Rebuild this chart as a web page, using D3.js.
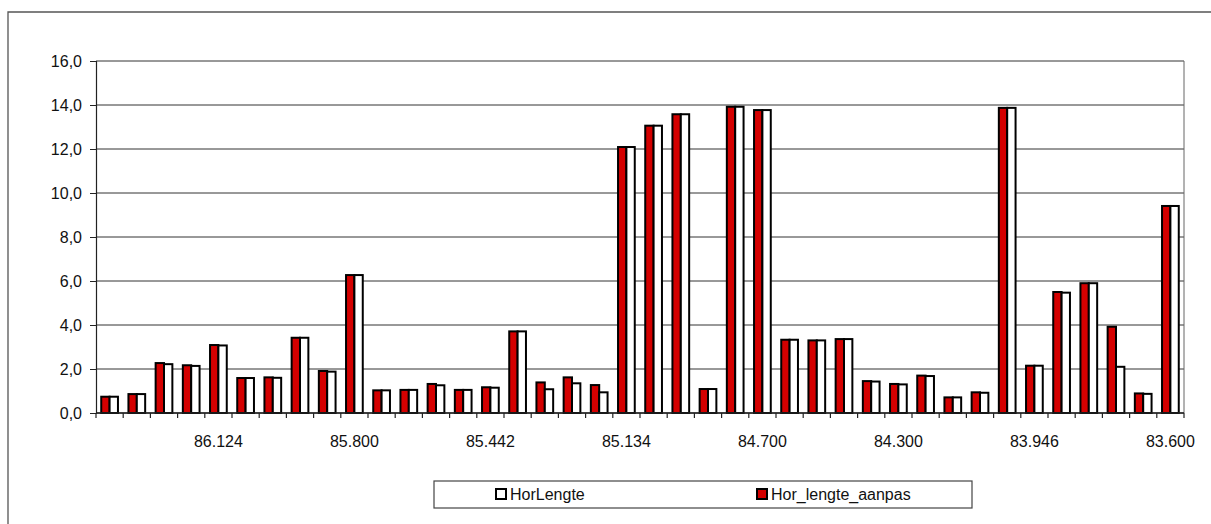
<!DOCTYPE html>
<html>
<head>
<meta charset="utf-8">
<script src="https://cdn.jsdelivr.net/npm/d3@7"></script>
<style>
  html, body { margin: 0; padding: 0; background: #fff; }
  svg { display: block; font-family: "Liberation Sans", Arial, sans-serif; }
</style>
</head>
<body>
<svg id="chart" width="1211" height="524"></svg>
<script>
// ---- data ----
const categories = d3.range(40).map(i => "c" + i);
const tickLabels = ["", "", "", "", "86.124", "", "", "", "", "85.800",
                    "", "", "", "", "85.442", "", "", "", "", "85.134",
                    "", "", "", "", "84.700", "", "", "", "", "84.300",
                    "", "", "", "", "83.946", "", "", "", "", "83.600"];
const horLengteAanpas = [0.74, 0.86, 2.27, 2.17, 3.09, 1.59, 1.62, 3.42, 1.91, 6.27,
                         1.03, 1.05, 1.32, 1.05, 1.17, 3.71, 1.39, 1.62, 1.27, 12.09,
                         13.06, 13.58, 1.09, 13.92, 13.77, 3.33, 3.30, 3.36, 1.45, 1.32,
                         1.70, 0.71, 0.94, 13.87, 2.15, 5.50, 5.90, 3.92, 0.89, 9.41];
const horLengte =       [0.74, 0.86, 2.22, 2.14, 3.07, 1.59, 1.60, 3.42, 1.88, 6.27,
                         1.03, 1.05, 1.26, 1.05, 1.15, 3.71, 1.08, 1.35, 0.94, 12.09,
                         13.06, 13.58, 1.09, 13.92, 13.77, 3.33, 3.30, 3.36, 1.43, 1.30,
                         1.68, 0.71, 0.92, 13.87, 2.15, 5.47, 5.90, 2.10, 0.87, 9.41];
const yTicks = [0, 2, 4, 6, 8, 10, 12, 14, 16];
const seriesNames = ["Hor_lengte_aanpas", "HorLengte"];
const seriesColors = ["#d40000", "#ffffff"];
const legendOrder = ["HorLengte", "Hor_lengte_aanpas"];

// ---- layout ----
const svg = d3.select("#chart");
const plot = { left: 96, right: 1184, top: 61, bottom: 413 };

// outer frame (extends beyond right/bottom edges)
svg.append("path")
  .attr("d", "M8,530 L8,12 L1220,12")
  .attr("fill", "none").attr("stroke", "#555").attr("stroke-width", 1.3);

const x = d3.scaleBand().domain(categories)
  .range([plot.left, plot.right]).paddingInner(0.385).paddingOuter(0.1925);
const xs = d3.scaleBand().domain(seriesNames).range([0, x.bandwidth()]);
const y = d3.scaleLinear().domain([0, 16]).range([plot.bottom, plot.top]);

// gridlines
svg.append("g").selectAll("line").data(yTicks).join("line")
  .attr("x1", plot.left).attr("x2", plot.right)
  .attr("y1", d => y(d)).attr("y2", d => y(d))
  .attr("stroke", "#333").attr("stroke-width", 1);

// right border of plot area
svg.append("line")
  .attr("x1", plot.right).attr("x2", plot.right)
  .attr("y1", plot.top).attr("y2", plot.bottom)
  .attr("stroke", "#666").attr("stroke-width", 1);

// bars
const rows = categories.map((c, i) => ({ c, vals: [horLengteAanpas[i], horLengte[i]] }));
const grp = svg.append("g").selectAll("g").data(rows).join("g")
  .attr("transform", d => `translate(${x(d.c)},0)`);
grp.selectAll("rect").data(d => d.vals.map((v, k) => ({ v, k })))
  .join("rect")
  .attr("x", d => xs(seriesNames[d.k]))
  .attr("width", xs.bandwidth())
  .attr("y", d => y(d.v))
  .attr("height", d => y(0) - y(d.v))
  .attr("fill", d => seriesColors[d.k])
  .attr("stroke", "#000").attr("stroke-width", 2);

// y axis
const yAxis = d3.axisLeft(y).tickValues(yTicks)
  .tickFormat(d => d3.format(".1f")(d).replace(".", ","))
  .tickSize(6).tickPadding(8);
const gy = svg.append("g").attr("transform", `translate(${plot.left},0)`).call(yAxis);
gy.select(".domain").attr("stroke", "#222").attr("stroke-width", 1.2);
gy.selectAll(".tick line").attr("stroke", "#222");
gy.selectAll("text").attr("font-size", 16).attr("fill", "#111")
  .attr("font-family", "Liberation Sans, Arial, sans-serif");

// x axis: line + ticks at category boundaries
svg.append("line")
  .attr("x1", plot.left).attr("x2", plot.right)
  .attr("y1", y(0)).attr("y2", y(0))
  .attr("stroke", "#222").attr("stroke-width", 1.3);
const step = x.step();
const boundaries = categories.map(c => x(c) - x.paddingOuter() * step).concat([plot.right]);
svg.append("g").selectAll("line").data(boundaries).join("line")
  .attr("x1", d => d).attr("x2", d => d)
  .attr("y1", y(0)).attr("y2", y(0) + 5)
  .attr("stroke", "#222").attr("stroke-width", 1.2);
svg.append("g").selectAll("text").data(categories).join("text")
  .attr("x", c => x(c) + x.bandwidth() / 2)
  .attr("y", y(0) + 34)
  .attr("text-anchor", "middle")
  .attr("font-size", 16).attr("fill", "#111")
  .text((c, i) => tickLabels[i]);

// legend
const lg = svg.append("g");
lg.append("rect").attr("x", 434).attr("y", 481).attr("width", 538).attr("height", 27)
  .attr("fill", "#fff").attr("stroke", "#444").attr("stroke-width", 1.2);
const legendX = [496, 757];
legendOrder.forEach((name, i) => {
  const k = seriesNames.indexOf(name);
  lg.append("rect").attr("x", legendX[i]).attr("y", 489).attr("width", 10).attr("height", 10)
    .attr("fill", seriesColors[k]).attr("stroke", "#000").attr("stroke-width", 2);
  lg.append("text").attr("x", legendX[i] + 14).attr("y", 500)
    .attr("font-size", 16).attr("fill", "#111").text(name);
});
</script>
</body>
</html>
